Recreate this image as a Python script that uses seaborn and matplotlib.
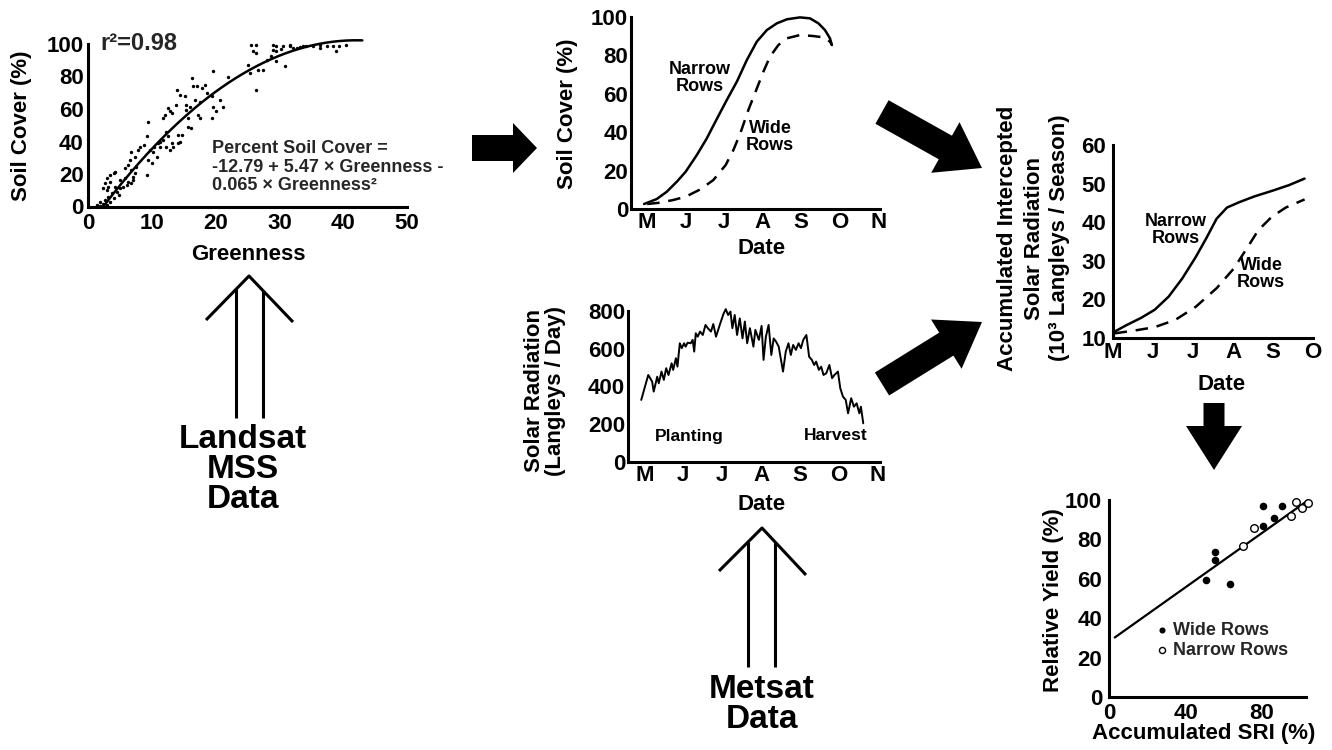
import numpy as np
import matplotlib
matplotlib.use("Agg")
import matplotlib.pyplot as plt
import seaborn as sns
from matplotlib.patches import Polygon

# ---------------- data ----------------
# Landsat greenness vs. observed soil cover (%)
greenness = [1.4, 1.9, 2.4, 2.9, 1.9, 2.7, 3.4, 3.2, 4.0, 3.7, 4.5, 4.8, 4.2, 5.0, 5.5, 6.1,
             6.3, 6.8, 7.1, 5.8, 5.0, 3.4, 3.2, 2.7, 2.4, 2.9, 4.0, 3.4, 4.2, 2.9, 5.8, 6.3,
             6.8, 7.4, 7.1, 7.6, 6.6, 7.4, 7.9, 8.1, 6.8, 8.7, 9.2, 9.7, 10.2, 10.0, 9.2, 9.4,
             10.8, 11.0, 11.3, 11.8, 12.6, 12.3, 11.3, 10.3, 12.8, 13.1, 13.4, 14.1, 14.4, 14.1,
             14.8, 12.3, 9.4, 11.8, 12.1, 12.6, 12.8, 13.1, 13.8, 13.9, 14.4, 15.2, 15.3, 15.6,
             15.7, 16.2, 15.4, 16.0, 16.3, 16.7, 17.3, 17.5, 17.6, 17.1, 17.9, 18.6, 19.4, 19.6,
             20.7, 21.1, 19.6, 19.5, 20.0, 22.0, 18.3, 16.5, 25.6, 26.4, 25.9, 26.4, 25.1, 25.4,
             26.7, 27.4, 26.3, 28.0, 28.7, 29.0, 29.5, 30.8, 30.3, 29.5, 30.6, 31.6, 32.1, 32.7,
             33.2, 34.2, 35.3, 36.3, 37.4, 38.4, 39.4, 38.9, 40.5, 36.3, 33.7, 31.6, 29.5, 29.0]
soil_cover_obs = [0.9, 0.3, 1.5, 0.9, 3.0, 4.0, 3.0, 6.1, 5.0, 8.1, 9.1, 7.1, 12.2, 11.2, 12.2, 13.3,
                  15.3, 14.3, 16.3, 17.4, 16.3, 15.3, 12.2, 14.3, 11.2, 10.2, 20.4, 19.4, 21.5, 17.4, 23.5, 25.6,
                  22.5, 20.4, 18.4, 24.6, 28.7, 30.7, 34.8, 36.9, 33.8, 37.9, 43.1, 34.8, 33.8, 26.6, 19.4, 28.7,
                  30.7, 39.0, 36.9, 41.0, 43.1, 46.1, 40.0, 36.9, 34.8, 39.0, 36.9, 39.0, 40.0, 44.1,
                  44.1, 36.9, 51.7, 54.4, 56.4, 60.5, 58.5, 57.4, 62.6, 71.8, 68.8, 67.7, 62.6, 54.4,
                  49.2, 48.2, 59.5, 61.5, 78.8, 65.7, 56.4, 54.4, 64.6, 73.9, 72.9, 69.8, 67.7, 61.5,
                  65.7, 61.5, 83.2, 54.4, 58.5, 80.0, 74.9, 73.9, 99.6, 99.6, 95.5, 94.4, 87.2, 82.1,
                  84.1, 84.1, 71.4, 90.3, 92.4, 96.5, 89.3, 86.2, 96.9, 95.5, 98.5, 98.5, 97.5, 97.5,
                  97.9, 98.5, 98.5, 97.5, 98.5, 98.5, 98.5, 95.5, 99.6, 99.6, 99.0, 99.6, 98.5, 99.6]
# Percent Soil Cover = -12.79 + 5.47 G - 0.065 G^2
fit_coef = [-12.79, 5.47, -0.065]
fit_greenness_range = [2.5, 43.0]

# month axis: 0 = May ... 6 = November
months = ["M", "J", "J", "A", "S", "O", "N"]

cover_t_narrow = [-0.08, 0.25, 0.51, 0.77, 1.0, 1.29, 1.55, 1.81, 2.07, 2.33, 2.59, 2.85, 3.11, 3.37,
                  3.63, 3.97, 4.23, 4.45, 4.62, 4.75, 4.80]
cover_narrow = [2.6, 5.2, 9.0, 14.2, 19.4, 28.1, 36.8, 46.9, 56.8, 66.3, 77.6, 87.2, 93.2, 96.7,
                98.8, 99.8, 99.3, 96.7, 93.2, 88.9, 85.4]
cover_t_wide = [0.0, 0.34, 0.68, 1.0, 1.38, 1.72, 2.04, 2.24, 2.42, 2.63, 2.85, 3.02, 3.19, 3.41,
                3.63, 3.97, 4.31, 4.58, 4.75, 4.80]
cover_wide = [2.6, 3.3, 4.7, 6.4, 10.2, 15.1, 22.9, 30.7, 39.4, 51.6, 62.8, 71.5, 79.3, 85.4,
              88.9, 90.6, 90.1, 89.4, 87.2, 85.4]

solar_t = [-0.08, 0.10, 0.20, 0.24, 0.33, 0.37, 0.44, 0.50, 0.56, 0.62, 0.70, 0.74, 0.81, 0.85,
           0.91, 0.96, 1.02, 1.06, 1.11, 1.19, 1.24, 1.28, 1.32, 1.37, 1.43, 1.50, 1.57, 1.63,
           1.71, 1.77, 1.84, 1.95, 2.03, 2.09, 2.15, 2.21, 2.26, 2.32, 2.38, 2.45, 2.52, 2.58,
           2.64, 2.71, 2.80, 2.85, 2.94, 3.01, 3.06, 3.12, 3.19, 3.26, 3.32, 3.38, 3.45, 3.56,
           3.63, 3.70, 3.76, 3.82, 3.89, 3.96, 4.02, 4.08, 4.16, 4.23, 4.30, 4.36, 4.41, 4.48,
           4.54, 4.60, 4.67, 4.75, 4.82, 4.88, 4.97, 5.03, 5.10, 5.17, 5.23, 5.31, 5.38, 5.45,
           5.52, 5.56, 5.62]
solar = [329, 461, 426, 373, 452, 417, 479, 435, 497, 461, 523, 488, 550, 505,
         629, 603, 629, 611, 632, 629, 647, 585, 682, 664, 691, 673, 726, 709,
         691, 731, 664, 735, 784, 810, 779, 797, 709, 779, 673, 761, 655, 744,
         629, 709, 611, 700, 647, 721, 541, 664, 726, 567, 655, 638, 611, 479,
         585, 629, 567, 620, 594, 629, 603, 647, 673, 558, 541, 514, 532, 488,
         505, 461, 470, 514, 444, 461, 479, 391, 346, 329, 258, 338, 293, 311,
         258, 293, 205]

accum_t_narrow = [0.03, 0.35, 0.70, 1.04, 1.39, 1.73, 2.07, 2.33, 2.59, 2.85, 3.16, 3.54, 3.97, 4.40, 4.79]
accum_narrow = [11.6, 13.4, 15.2, 17.3, 20.7, 25.4, 31.0, 35.8, 40.9, 43.8, 45.2, 46.7, 48.1, 49.6, 51.3]
accum_t_wide = [0.04, 0.52, 1.04, 1.56, 2.07, 2.59, 3.02, 3.37, 3.63, 3.97, 4.32, 4.79]
accum_wide = [11.2, 11.9, 12.8, 14.7, 18.1, 22.9, 28.0, 33.6, 37.9, 41.4, 43.8, 45.9]

sri_wide = [80.3, 90.7, 80.3, 86.5, 55.5, 55.5, 50.6, 63.3]
yield_wide = [97.0, 97.0, 86.8, 90.7, 73.7, 69.5, 59.3, 57.6]
sri_narrow = [75.9, 70.3, 97.9, 95.3, 100.7, 103.9]
yield_narrow = [85.6, 76.6, 99.2, 91.9, 96.1, 98.3]
yield_fit_sri = [3.0, 104.0]
yield_fit_value = [30.2, 99.8]

# ---------------- style ----------------
sns.set_style("white")
plt.rcParams["font.family"] = ["Liberation Sans", "DejaVu Sans"]
plt.rcParams["font.weight"] = "bold"
plt.rcParams["axes.labelweight"] = "bold"

W, H = 1332, 750
fig = plt.figure(figsize=(W / 100, H / 100), dpi=100)
fig.patch.set_facecolor("white")

# full-figure layer in pixel units (y downward) for arrows and free text
ov = fig.add_axes([0, 0, 1, 1], zorder=0)
ov.set_xlim(0, W)
ov.set_ylim(H, 0)
ov.axis("off")


def panel(l, t, r, b):
    ax = fig.add_axes([l / W, 1 - b / H, (r - l) / W, (b - t) / H], zorder=2)
    ax.set_facecolor("none")
    return ax


def style(ax, xpad=2, ypad=2):
    for s in ["top", "right"]:
        ax.spines[s].set_visible(False)
    for s in ["left", "bottom"]:
        ax.spines[s].set_linewidth(2.2)
        ax.spines[s].set_color("black")
    ax.tick_params(direction="in", length=7, width=2, labelsize=16, colors="black")
    ax.tick_params(axis="x", pad=xpad)
    ax.tick_params(axis="y", pad=ypad)
    ax.set_xlabel("")
    ax.set_ylabel("")


def label(x, y, s, size=16, rot=0, **kw):
    ov.text(x, y, s, fontsize=size, rotation=rot, ha="center", va="center",
            fontweight="bold", color="black", **kw)


def block_arrow(tail, tip, shaft_w, head_w, head_len):
    tail = np.asarray(tail, float)
    tip = np.asarray(tip, float)
    d = tip - tail
    u = d / np.hypot(*d)
    n = np.array([-u[1], u[0]])
    base = tip - u * head_len
    pts = [tail + n * shaft_w / 2, base + n * shaft_w / 2, base + n * head_w / 2, tip,
           base - n * head_w / 2, base - n * shaft_w / 2, tail - n * shaft_w / 2]
    ov.add_patch(Polygon(pts, closed=True, facecolor="black", edgecolor="none"))


def open_arrow(apex, left_end, right_end, shaft_x, shaft_bottom):
    ax_, ay_ = apex
    kw = dict(color="black", lw=2.2, solid_capstyle="butt")
    ov.plot([left_end[0], ax_, right_end[0]], [left_end[1], ay_, right_end[1]], **kw)
    for sx, end in zip(shaft_x, (left_end, right_end)):
        sy = ay_ + (end[1] - ay_) * (sx - ax_) / (end[0] - ax_)
        ov.plot([sx, sx], [sy, shaft_bottom], **kw)


# ---------------- panel 1: soil cover vs greenness ----------------
ax1 = panel(88, 44, 407, 206.5)
sns.scatterplot(x=greenness, y=soil_cover_obs, ax=ax1, color="black", s=6, linewidth=0, clip_on=False)
g = np.linspace(fit_greenness_range[0], fit_greenness_range[1], 150)
sc = fit_coef[0] + fit_coef[1] * g + fit_coef[2] * g ** 2
sns.lineplot(x=g, y=sc, ax=ax1, color="black", lw=1.8, sort=False, estimator=None, clip_on=False)
ax1.set_xlim(0, 50)
ax1.set_ylim(0, 100)
ax1.set_xticks(range(0, 51, 10))
ax1.set_yticks(range(0, 101, 20))
style(ax1, xpad=5, ypad=3)
ax1.text(0.04, 1.0, "r²=0.98", transform=ax1.transAxes, fontsize=17, fontweight="bold",
         ha="left", va="center")
ax1.text(0.39, 0.243, "Percent Soil Cover =\n-12.79 + 5.47 × Greenness -\n0.065 × Greenness²",
         transform=ax1.transAxes, fontsize=13, fontweight="bold", ha="left", va="center",
         linespacing=1.15)
label(22, 126, "Soil Cover (%)", rot=90)
label(248, 254, "Greenness")

# ---------------- panel 2: soil cover through the season ----------------
ax2 = panel(631, 17, 880, 209)
sns.lineplot(x=cover_t_narrow, y=cover_narrow, ax=ax2, color="black", lw=1.8, sort=False,
             estimator=None, clip_on=False)
sns.lineplot(x=cover_t_wide, y=cover_wide, ax=ax2, color="black", lw=1.8, sort=False,
             estimator=None, clip_on=False)
ax2.lines[-1].set_linestyle((0, (5, 3.5)))
ax2.set_xlim(-0.42, 6.05)
ax2.set_ylim(0, 100)
ax2.set_xticks(range(7))
ax2.set_xticklabels(months)
ax2.set_yticks(range(0, 101, 20))
style(ax2)
label(700, 78, "Narrow\nRows", size=13, linespacing=0.95)
label(770, 137, "Wide\nRows", size=13, linespacing=0.95)
label(567, 114, "Soil Cover (%)", rot=90)
label(762, 248, "Date")

# ---------------- panel 3: daily solar radiation ----------------
ax3 = panel(628, 311, 880, 462)
sns.lineplot(x=solar_t, y=solar, ax=ax3, color="black", lw=1.4, sort=False, estimator=None,
             clip_on=False)
ax3.set_xlim(-0.42, 6.05)
ax3.set_ylim(0, 800)
ax3.set_xticks(range(7))
ax3.set_xticklabels(months)
ax3.set_yticks(range(0, 801, 200))
style(ax3)
label(689, 436, "Planting", size=12.5)
label(836, 436, "Harvest", size=12.5)
label(535, 391, "Solar Radiation", rot=90)
label(556, 391, "(Langleys / Day)", rot=90)
label(762, 505, "Date")

# ---------------- panel 4: accumulated intercepted radiation ----------------
ax4 = panel(1113, 145, 1313, 338)
sns.lineplot(x=accum_t_narrow, y=accum_narrow, ax=ax4, color="black", lw=1.8, sort=False,
             estimator=None, clip_on=False)
sns.lineplot(x=accum_t_wide, y=accum_wide, ax=ax4, color="black", lw=1.8, sort=False,
             estimator=None, clip_on=False)
ax4.lines[-1].set_linestyle((0, (5, 3.5)))
ax4.set_xlim(0, 5)
ax4.set_ylim(10, 60)
ax4.set_xticks(range(6))
ax4.set_xticklabels(months[:6])
ax4.set_yticks(range(10, 61, 10))
style(ax4, xpad=3, ypad=5)
label(1176, 230, "Narrow\nRows", size=13, linespacing=0.95)
label(1261, 274, "Wide\nRows", size=13, linespacing=0.95)
label(1008, 238, "Accumulated Intercepted", rot=90)
label(1034, 238, "Solar Radiation", rot=90)
label(1059, 238, "(10³ Langleys / Season)", rot=90)
label(1222, 384, "Date")

# ---------------- panel 5: relative yield vs accumulated SRI ----------------
ax5 = panel(1109, 500, 1306, 697)
sns.lineplot(x=yield_fit_sri, y=yield_fit_value, ax=ax5, color="black", lw=1.6, sort=False,
             estimator=None, clip_on=False)
sns.scatterplot(x=sri_wide, y=yield_wide, ax=ax5, color="black", s=30, linewidth=0,
                clip_on=False, label="Wide Rows", zorder=3)
sns.scatterplot(x=sri_narrow, y=yield_narrow, ax=ax5, facecolor="white", edgecolor="black",
                s=30, linewidth=1.0, clip_on=False, label="Narrow Rows", zorder=3)
ax5.set_xlim(0, 103)
ax5.set_ylim(0, 100)
ax5.set_xticks(range(0, 101, 20))
ax5.set_xticklabels(["0", "", "40", "", "80", ""])
ax5.set_yticks(range(0, 101, 20))
style(ax5, xpad=4, ypad=5)
leg = ax5.legend(loc="upper left", bbox_to_anchor=(0.24, 0.38), frameon=False, fontsize=13,
                 handlelength=0.6, handletextpad=0.3, labelspacing=0.15, borderpad=0,
                 borderaxespad=0, markerscale=0.8)
for t in leg.get_texts():
    t.set_fontweight("bold")
label(1053, 600, "Relative Yield (%)", rot=90)
label(1204, 734, "Accumulated SRI (%)")

# ---------------- arrows and data-source labels ----------------
block_arrow((472, 148), (537, 148), 26, 50, 24)
block_arrow((882, 112), (982, 168), 27, 58, 42)
block_arrow((882, 384), (982, 322), 27, 58, 42)
block_arrow((1214, 403), (1214, 470), 21, 56, 44)

open_arrow((249, 276), (206, 320), (293, 322), (236, 263), 418)
open_arrow((762, 528), (719, 571), (806, 575), (748, 775), 667)

label(243, 440, "Landsat", size=24)
label(243, 470, "MSS", size=24)
label(243, 500, "Data", size=24)
label(762, 690, "Metsat", size=24)
label(762, 720, "Data", size=24)

fig.savefig("out.png", dpi=100, facecolor="white")
